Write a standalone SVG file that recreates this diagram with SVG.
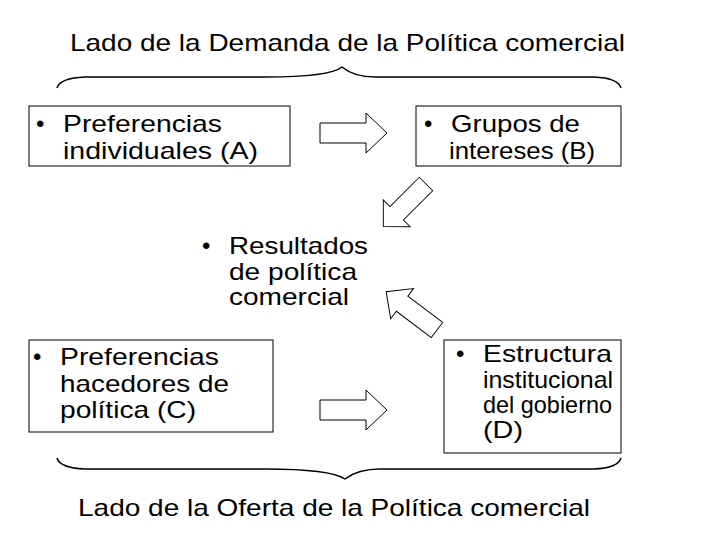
<svg xmlns="http://www.w3.org/2000/svg" width="720" height="540" viewBox="0 0 720 540">
<style>
text{font-family:"Liberation Sans",Arial,sans-serif;font-size:24px;fill:#000}
.box{fill:#fff;stroke:#000;stroke-width:1}
.arr{fill:#fff;stroke:#000;stroke-width:1}
.br{fill:none;stroke:#000;stroke-width:1.5}
</style>
<defs>
<polygon id="ar" class="arr" points="0,-10 46,-10 46,-20 67,0 46,20 46,10 0,10"/>
</defs>
<rect width="720" height="540" fill="#fff"/>
<text x="70" y="51" textLength="555" lengthAdjust="spacingAndGlyphs">Lado de la Demanda de la Política comercial</text>
<path class="br" d="M57,88 Q60,78 85,77 L265,77 Q330,77 342,67 Q354,77 375,77 L594,77 Q618,78 621,88"/>
<g id="nodeA"><rect class="box" x="29" y="106" width="261" height="60"/>
<text x="36" y="132">•</text><text x="63" y="132" textLength="159" lengthAdjust="spacingAndGlyphs">Preferencias</text><text x="63" y="159" textLength="195" lengthAdjust="spacingAndGlyphs">individuales (A)</text></g>
<g id="nodeB"><rect class="box" x="416" y="106" width="205" height="60"/>
<text x="424" y="132">•</text><text x="451" y="132" textLength="129" lengthAdjust="spacingAndGlyphs">Grupos de</text><text x="449" y="159" textLength="146" lengthAdjust="spacingAndGlyphs">intereses (B)</text></g>
<g id="nodeR"><text x="202" y="254">•</text><text x="229" y="254" textLength="139" lengthAdjust="spacingAndGlyphs">Resultados</text><text x="229" y="280" textLength="128" lengthAdjust="spacingAndGlyphs">de política</text><text x="229" y="305" textLength="120" lengthAdjust="spacingAndGlyphs">comercial</text></g>
<g id="nodeC"><rect class="box" x="29" y="340" width="244" height="92"/>
<text x="33" y="365">•</text><text x="60" y="365" textLength="159" lengthAdjust="spacingAndGlyphs">Preferencias</text><text x="60" y="392" textLength="169" lengthAdjust="spacingAndGlyphs">hacedores de</text><text x="60" y="418" textLength="136" lengthAdjust="spacingAndGlyphs">política (C)</text></g>
<g id="nodeD"><rect class="box" x="444" y="340" width="177" height="113"/>
<text x="456" y="362">•</text><text x="483" y="362" textLength="129" lengthAdjust="spacingAndGlyphs">Estructura</text><text x="483" y="388" textLength="130" lengthAdjust="spacingAndGlyphs">institucional</text><text x="483" y="413" textLength="129" lengthAdjust="spacingAndGlyphs">del gobierno</text><text x="483" y="438" textLength="40" lengthAdjust="spacingAndGlyphs">(D)</text></g>
<g id="connectors">
<use href="#ar" transform="translate(320,133)"/>
<use href="#ar" transform="translate(320,410)"/>
<use href="#ar" transform="translate(426,184) rotate(135) scale(0.9,0.95)"/>
<use href="#ar" transform="translate(437,330) rotate(-143) scale(0.95,0.95)"/>
</g>
<path class="br" d="M57,458 Q60,468 85,469 L265,469 Q330,469 345,479 Q358,469 380,469 L594,469 Q618,468 621,458"/>
<text x="78" y="516" textLength="512" lengthAdjust="spacingAndGlyphs">Lado de la Oferta de la Política comercial</text>
</svg>
